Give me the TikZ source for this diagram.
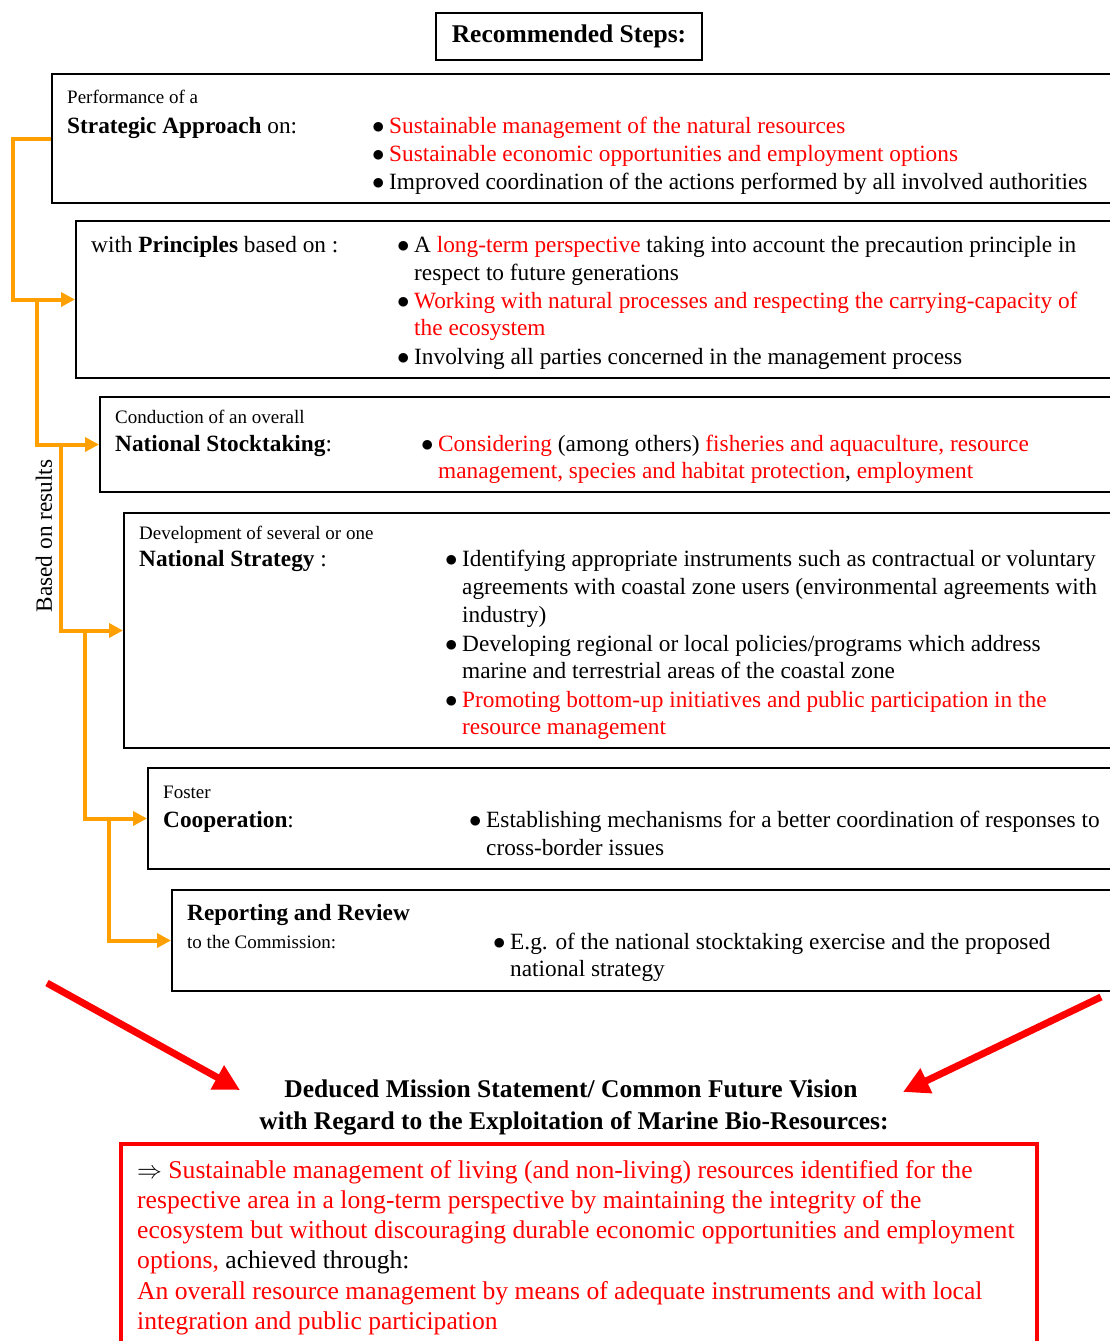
\documentclass[tikz,border=0pt]{standalone}
\usepackage{fontspec}
\setmainfont{Liberation Serif}
\usetikzlibrary{arrows.meta}
\definecolor{rd}{RGB}{255,0,0}
\definecolor{org}{RGB}{255,160,0}
\begin{document}
\begin{tikzpicture}[x=1pt,y=-1pt,
 box/.style={draw=black, line width=2pt, rectangle, anchor=north west, inner sep=0},
 tx/.style={anchor=base west, inner sep=0, font=\fontsize{23.3}{28}\selectfont},
 sm/.style={anchor=base west, inner sep=0, font=\fontsize{19}{22}\selectfont},
 bul/.style={anchor=base west, inner sep=0, font=\fontsize{23.3}{28}\selectfont},
 mtitle/.style={anchor=base, inner sep=0, font=\fontsize{25.5}{30}\selectfont\bfseries},
 mtx/.style={anchor=base west, inner sep=0, font=\fontsize{25.6}{30}\selectfont},
 ol/.style={draw=org, line width=4pt, line join=miter, -{Triangle[length=14pt,width=14pt]}},
 ra/.style={draw=rd, line width=7pt, -{Triangle[length=26pt,width=26pt]}}]
\useasboundingbox (0,0) rectangle (1110,1341);
\begin{scope}
\clip (0,0) rectangle (1110,1341);
% title
\node[draw=black, line width=2pt, minimum width=266pt, minimum height=47pt, inner sep=0,
  font=\fontsize{25.5}{30}\selectfont\bfseries] (title) at (569,36.5) {Recommended Steps:};
% boxes
\node[box, minimum width=1100pt, minimum height=129pt] (b1) at (51,73) {};
\node[box, minimum width=1100pt, minimum height=157pt] (b2) at (75,220) {};
\node[box, minimum width=1100pt, minimum height=95pt] (b3) at (99,396) {};
\node[box, minimum width=1100pt, minimum height=235pt] (b4) at (123,512) {};
\node[box, minimum width=1100pt, minimum height=101pt] (b5) at (147,767) {};
\node[box, minimum width=1100pt, minimum height=101pt] (b6) at (171,889) {};
% box 1
\node[sm] (t11) at (67,103) {Performance of a};
\node[tx] (t12) at (67,133) {\textbf{Strategic Approach} on:};
\node[bul] (u11) at (372,133) {$\bullet$};
\node[tx] (t13) at (389,133) {\textcolor{rd}{Sustainable management of the natural resources}};
\node[bul] (u12) at (372,161) {$\bullet$};
\node[tx] (t14) at (389,161) {\textcolor{rd}{Sustainable economic opportunities and employment options}};
\node[bul] (u13) at (372,189) {$\bullet$};
\node[tx] (t15) at (389,189) {Improved coordination of the actions performed by all involved authorities};
% box 2
\node[tx] (t21) at (91,252) {with \textbf{Principles} based on :};
\node[bul] (u21) at (397,252) {$\bullet$};
\node[tx] (t22) at (414,252) {A \textcolor{rd}{long-term perspective} taking into account the precaution principle in};
\node[tx] (t23) at (414,280) {respect to future generations};
\node[bul] (u22) at (397,308) {$\bullet$};
\node[tx] (t24) at (414,308) {\textcolor{rd}{Working with natural processes and respecting the carrying-capacity of}};
\node[tx] (t25) at (414,335) {\textcolor{rd}{the ecosystem}};
\node[bul] (u23) at (397,364) {$\bullet$};
\node[tx] (t26) at (414,364) {Involving all parties concerned in the management process};
% box 3
\node[sm] (t31) at (115,423) {Conduction of an overall};
\node[tx] (t32) at (115,451) {\textbf{National Stocktaking}:};
\node[bul] (u31) at (421,451) {$\bullet$};
\node[tx] (t33) at (438,451) {\textcolor{rd}{Considering} (among others) \textcolor{rd}{fisheries and aquaculture, resource}};
\node[tx] (t34) at (438,478) {\textcolor{rd}{management, species and habitat protection}, \textcolor{rd}{employment}};
% box 4
\node[sm] (t41) at (139,539) {Development of several or one};
\node[tx] (t42) at (139,566) {\textbf{National Strategy} :};
\node[bul] (u41) at (445,566) {$\bullet$};
\node[tx] (t43) at (462,566) {Identifying appropriate instruments such as contractual or voluntary};
\node[tx] (t44) at (462,594) {agreements with coastal zone users (environmental agreements with};
\node[tx] (t45) at (462,622) {industry)};
\node[bul] (u42) at (445,651) {$\bullet$};
\node[tx] (t46) at (462,651) {Developing regional or local policies/programs which address};
\node[tx] (t47) at (462,678) {marine and terrestrial areas of the coastal zone};
\node[bul] (u43) at (445,707) {$\bullet$};
\node[tx] (t48) at (462,707) {\textcolor{rd}{Promoting bottom-up initiatives and public participation in the}};
\node[tx] (t49) at (462,734) {\textcolor{rd}{resource management}};
% box 5
\node[sm] (t51) at (163,798) {Foster};
\node[tx] (t52) at (163,827) {\textbf{Cooperation}:};
\node[bul] (u51) at (469,827) {$\bullet$};
\node[tx] (t53) at (486,827) {Establishing mechanisms for a better coordination of responses to};
\node[tx] (t54) at (486,855) {cross-border issues};
% box 6
\node[tx] (t61) at (187,920) {\textbf{Reporting and Review}};
\node[sm] (t62) at (187,948) {to the Commission:};
\node[bul] (u61) at (493,949) {$\bullet$};
\node[tx] (t63) at (510,949) {E.g. of the national stocktaking exercise and the proposed};
\node[tx] (t64) at (510,976) {national strategy};
% orange connectors
\coordinate (c1) at (13,0);
\coordinate (c2) at (37,0);
\coordinate (c3) at (61,0);
\coordinate (c4) at (85,0);
\coordinate (c5) at (109,0);
\draw[ol] (b1.west) -- (b1.west -| c1) -- (b2.west -| c1) -- (b2.west);
\draw[ol] (b2.west -| c2) -- (b3.west -| c2) -- (b3.west);
\draw[ol] (b3.west -| c3) -- (b4.west -| c3) -- (b4.west);
\draw[ol] (b4.west -| c4) -- (b5.west -| c4) -- (b5.west);
\draw[ol] (b5.west -| c5) -- (b6.west -| c5) -- (b6.west);
\node[rotate=90, inner sep=0, font=\fontsize{23.3}{28}\selectfont] (based) at (44,536) {Based on results};
% mission
\node[mtitle] (m1) at (571,1097) {Deduced Mission Statement/ Common Future Vision};
\node[mtitle] (m2) at (574,1129) {with Regard to the Exploitation of Marine Bio-Resources:};
\coordinate (la) at (47,983);
\coordinate (lb) at (240,1090);
\coordinate (rb1) at (1101,997);
\coordinate (rb2) at (903,1092);
\draw[ra] (la) -- (lb);
\draw[ra] (rb1) -- (rb2);
\node[draw=rd, line width=4pt, rectangle, anchor=north west, inner sep=0, minimum width=916pt, minimum height=240pt] (mbox) at (119,1142) {};
\node[mtx] (m3) at (137,1178) {$\Rightarrow$ \textcolor{rd}{Sustainable management of living (and non-living) resources identified for the}};
\node[mtx] (m4) at (137,1208) {\textcolor{rd}{respective area in a long-term perspective by maintaining the integrity of the}};
\node[mtx] (m5) at (137,1238) {\textcolor{rd}{ecosystem but without discouraging durable economic opportunities and employment}};
\node[mtx] (m6) at (137,1268) {\textcolor{rd}{options,} achieved through:};
\node[mtx] (m7) at (137,1299) {\textcolor{rd}{An overall resource management by means of adequate instruments and with local}};
\node[mtx] (m8) at (137,1329) {\textcolor{rd}{integration and public participation}};
\end{scope}
\end{tikzpicture}
\end{document}
